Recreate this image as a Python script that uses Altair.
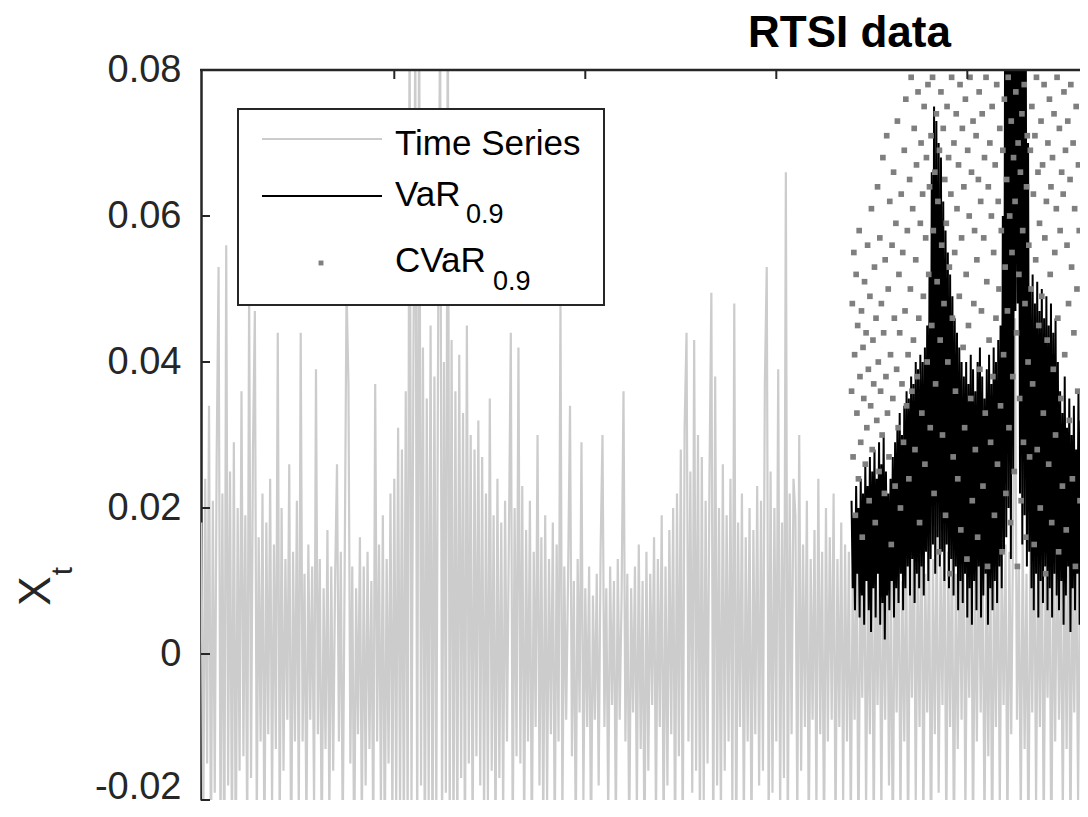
import altair as alt
import pandas as pd

# ---------------- data ----------------
title_text = "RTSI data"
legend_labels = ["Time Series", "VaR", "CVaR"]
legend_sub = "0.9"
y_ticks = [-0.02, 0, 0.02, 0.04, 0.06, 0.08]
x_ticks = [500, 1000, 1500, 2000]

ts_start, ts_step = -5, 5
ts_values = [
    0.018, -0.024, 0.024, -0.015, 0.034, -0.029, 0.021, -0.019, 0.027, 0.053,
    -0.026, 0.022, -0.033, 0.056, -0.018, 0.025, -0.027, 0.029, -0.03, 0.02, -0.016,
    0.036, -0.014, 0.019, -0.026, 0.05, -0.017, 0.028, 0.047, -0.023, 0.016,
    -0.012, 0.022, -0.028, 0.018, -0.011, 0.024, -0.021, 0.015, -0.013, 0.044,
    -0.025, 0.02, -0.016, 0.013, -0.009, 0.026, -0.03, 0.014, -0.012, 0.021,
    -0.022,
    0.044, -0.012, 0.011, -0.024, 0.015, -0.009, 0.012, -0.021, 0.039, -0.011,
    0.013, -0.027, 0.009, -0.013, 0.017, -0.022, 0.012, -0.016, 0.01, 0.026,
    -0.012, 0.014, -0.025, 0.011, 0.05, 0.037, -0.015, 0.012, -0.029, 0.009,
    -0.011, 0.016, -0.024, 0.012, -0.018, 0.014, -0.013, 0.01, -0.026, 0.037,
    -0.012, 0.015, -0.021, 0.019, -0.027, 0.013, -0.015, 0.022, -0.023,
    0.024, -0.021, 0.031, -0.022, 0.028, -0.026, 0.036, -0.025, 0.09, -0.021,
    0.04, 0.085, -0.028, 0.095, -0.018, 0.042, -0.03, 0.035, -0.02, 0.045,
    -0.03, 0.038, -0.022, 0.047, 0.088, -0.026, 0.04, -0.019, 0.092, -0.024,
    0.043, -0.027, 0.036, -0.027, 0.041, -0.017, 0.033, -0.029, 0.045, -0.015,
    0.03, -0.026, 0.028, -0.014, 0.032,
    -0.018, 0.027, -0.023, 0.022, -0.02, 0.035, -0.016, 0.019, -0.026, 0.024,
    -0.017, 0.018, -0.022, 0.021, -0.012, 0.016, 0.044, -0.027, 0.02, -0.014,
    0.042, -0.015, 0.023, -0.025, 0.017, -0.012, 0.021, -0.028, 0.014, -0.01,
    0.03, -0.018, 0.016, -0.024, 0.019, -0.02, 0.013, -0.011, 0.018, -0.026,
    0.015,
    -0.012, 0.048, -0.023, 0.012, -0.009, 0.011, 0.034, -0.014, 0.01, -0.025,
    0.013, -0.008, 0.029, -0.02, 0.009, -0.01, 0.012, -0.027, 0.008, -0.009,
    0.011, -0.018, 0.014, 0.03, -0.01, 0.009, -0.022, 0.012, -0.007, 0.01,
    -0.024, 0.013, -0.009, 0.008, 0.036, -0.012, 0.011, -0.026, 0.009, -0.008,
    0.012, -0.021, 0.015, -0.013, 0.01, -0.028, 0.014, -0.016, 0.011, -0.007,
    0.016, -0.023, 0.013, -0.01, 0.019, -0.025, 0.012, -0.018, 0.017, -0.011,
    0.02, -0.027,
    0.022, -0.014, 0.028, -0.027, 0.031, 0.044, -0.012, 0.025, -0.019, 0.043,
    -0.016, 0.03, -0.024, 0.027, -0.02, 0.021, -0.015, 0.024, 0.0495, -0.029,
    0.038, -0.018, 0.02, -0.023, 0.026, -0.016, 0.019, -0.012, 0.024, -0.021,
    0.048, -0.028, 0.018, -0.01, 0.022, -0.024, 0.016, -0.012, 0.02, -0.026,
    0.017, -0.011, 0.023, -0.018, 0.021, -0.016, 0.037, 0.053, -0.025, 0.025,
    -0.019, 0.02, -0.012, 0.039, -0.022, 0.018, -0.017, 0.066, -0.027, 0.022,
    -0.011, 0.024,
    0.019, -0.023, 0.03, -0.016, 0.015, -0.01, 0.021, -0.026, 0.013, -0.009,
    0.017, -0.021, 0.024, -0.011, 0.014, -0.027, 0.02, -0.012, 0.016, -0.009,
    0.022, -0.025, 0.013, -0.01, 0.018, -0.02, 0.015,
    -0.012, 0.014, -0.024, 0.011, -0.009, 0.016, -0.027, 0.012, -0.006, 0.018,
    -0.021, 0.01, -0.011, 0.02, -0.025, 0.013, -0.007, 0.015, -0.022, 0.012,
    -0.009, 0.017, -0.018, 0.011, -0.028, 0.014, -0.008, 0.019, -0.023, 0.01,
    -0.012, 0.015, -0.026, 0.013, -0.006, 0.018, -0.02, 0.012, -0.01, 0.022,
    -0.024, 0.011, -0.008, 0.016, -0.029, 0.013, -0.011, 0.017, -0.019, 0.012,
    -0.007, 0.019, -0.025, 0.014, -0.01, 0.016, -0.027, 0.011, -0.013, 0.015,
    -0.009, 0.018, -0.022, 0.012, -0.006, 0.02, -0.026, 0.013, -0.012, 0.016,
    -0.008, 0.014, -0.024, 0.011, -0.014, 0.017, -0.028, 0.012, -0.01, 0.019,
    -0.021, 0.013, -0.007, 0.015, -0.025, 0.014, -0.011, 0.018, 0.046, -0.009,
    0.012, -0.023, 0.016, -0.013, 0.011, -0.027, 0.015, -0.008, 0.019, -0.02,
    0.013, -0.01, 0.017, -0.025, 0.012, -0.006, 0.016, -0.029, 0.014, -0.012,
    0.018, -0.009, 0.011, -0.022, 0.015, -0.013, 0.02, -0.026, 0.012, -0.008,
    0.016, -0.02, 0.013, -0.011, 0.019, -0.027, 0.014, -0.01,
]

var_start, var_step = 1697, 3
var_values = [
    0.021, 0.009, 0.019, 0.006, 0.023, 0.011, 0.02, 0.005, 0.024, 0.008,
    0.022, 0.004, 0.026, 0.01, 0.023, 0.006, 0.027, 0.003, 0.025, 0.009,
    0.028, 0.005, 0.024, 0.011, 0.029, 0.004, 0.026, 0.007, 0.03, 0.002,
    0.025, 0.008, 0.022, 0.006, 0.024, 0.01, 0.027, 0.005, 0.029, 0.009,
    0.031, 0.007, 0.033, 0.011, 0.03, 0.006, 0.034, 0.009, 0.036, 0.012,
    0.035, 0.008, 0.038, 0.013, 0.037, 0.007, 0.04, 0.011, 0.039, 0.009,
    0.041, 0.012, 0.04, 0.008, 0.042, 0.014, 0.045, 0.01,
    0.052, 0.013, 0.066, 0.015, 0.075, 0.011, 0.073, 0.016, 0.07, 0.012,
    0.068, 0.014, 0.062, 0.01, 0.058, 0.015, 0.055, 0.009, 0.052, 0.013,
    0.049, 0.008, 0.046, 0.012, 0.044, 0.006, 0.042, 0.01, 0.04, 0.007,
    0.038, 0.011, 0.04, 0.005, 0.037, 0.009, 0.041, 0.004, 0.039, 0.01,
    0.036, 0.006, 0.04, 0.012, 0.042, 0.005, 0.038, 0.008, 0.035, 0.011,
    0.039, 0.004, 0.041, 0.009, 0.037, 0.006, 0.042, 0.01, 0.04, 0.007,
    0.043, 0.012, 0.045, 0.009, 0.06, 0.014,
    0.088, 0.016, 0.095, 0.02, 0.1, 0.013, 0.097, 0.025, 0.092, 0.047,
    0.098, 0.048, 0.094, 0.022, 0.09, 0.015, 0.096, 0.019, 0.087, 0.012,
    0.07, 0.014,
    0.05, 0.009, 0.052, 0.006, 0.048, 0.011, 0.051, 0.005, 0.047, 0.01,
    0.05, 0.007, 0.046, 0.012, 0.049, 0.006, 0.045, 0.009, 0.048, 0.005,
    0.044, 0.011, 0.046, 0.008, 0.04, 0.006,
    0.036, 0.01, 0.033, 0.004, 0.038, 0.008, 0.031, 0.012, 0.035, 0.003,
    0.03, 0.009, 0.034, 0.006, 0.028, 0.011, 0.036, 0.004, 0.032, 0.008,
    0.029, 0.012, 0.035, 0.005, 0.031, 0.009, 0.037, 0.007, 0.033, 0.01,
    0.03, 0.005, 0.034, 0.008,
]

cvar_start, cvar_step = 1697, 2
cvar_values = [
    0.036, 0.048, 0.027, 0.055, 0.041, 0.019, 0.052, 0.033, 0.045, 0.024,
    0.058, 0.038, 0.029, 0.047, 0.016, 0.042, 0.035, 0.051, 0.026, 0.044,
    0.031, 0.056, 0.039, 0.021, 0.049, 0.034, 0.061, 0.028, 0.043, 0.037,
    0.053, 0.018, 0.046, 0.032, 0.064, 0.04, 0.025, 0.057, 0.036, 0.048,
    0.03, 0.068, 0.044, 0.022, 0.054, 0.038, 0.071, 0.033, 0.05, 0.027,
    0.062, 0.041, 0.015, 0.056, 0.035, 0.066, 0.046, 0.023, 0.059, 0.039,
    0.073, 0.031, 0.052, 0.044, 0.02, 0.063, 0.037, 0.055, 0.029, 0.069,
    0.047, 0.076, 0.034, 0.058, 0.041, 0.024, 0.065, 0.05, 0.079, 0.036,
    0.061, 0.043, 0.072, 0.028, 0.054, 0.067, 0.038, 0.077, 0.046, 0.018,
    0.059, 0.07, 0.033, 0.063, 0.049, 0.075, 0.026, 0.057, 0.068, 0.04,
    0.078, 0.052, 0.064, 0.031,
    0.071, 0.045, 0.079, 0.058, 0.022, 0.066, 0.037, 0.074, 0.051, 0.062,
    0.014, 0.069, 0.043, 0.077, 0.056, 0.03, 0.072, 0.048, 0.065, 0.019,
    0.059, 0.075, 0.04, 0.068, 0.053, 0.011, 0.063, 0.079, 0.046, 0.027,
    0.07, 0.055, 0.036, 0.074, 0.061, 0.024, 0.067, 0.049, 0.078, 0.017,
    0.057, 0.072, 0.042, 0.064, 0.031, 0.076, 0.052, 0.013, 0.069, 0.045,
    0.06, 0.079, 0.035, 0.066, 0.021, 0.073, 0.048, 0.058, 0.028, 0.071,
    0.054, 0.016, 0.065, 0.077, 0.039, 0.062, 0.047, 0.074, 0.023, 0.057,
    0.068, 0.033, 0.079, 0.051, 0.012, 0.064, 0.043, 0.07, 0.029, 0.06,
    0.075, 0.038, 0.055, 0.019, 0.067, 0.046, 0.078, 0.026, 0.062, 0.05,
    0.072, 0.034, 0.058, 0.014, 0.069, 0.041, 0.076, 0.053, 0.022,
    0.065, 0.047, 0.079, 0.031, 0.06, 0.018, 0.073, 0.055, 0.038, 0.068,
    0.025, 0.062, 0.077, 0.044, 0.012, 0.07, 0.052, 0.035, 0.066, 0.021,
    0.074, 0.058, 0.029, 0.078, 0.048, 0.016, 0.064, 0.071, 0.04, 0.056,
    0.027, 0.069, 0.05,
    0.075, 0.037, 0.063, 0.015, 0.071, 0.054, 0.079, 0.028, 0.066, 0.045,
    0.059, 0.02, 0.073, 0.049, 0.067, 0.033, 0.078, 0.057, 0.011, 0.062,
    0.043, 0.07, 0.026, 0.076, 0.052, 0.064, 0.018, 0.068, 0.039, 0.074,
    0.055, 0.03, 0.061, 0.079, 0.046, 0.014, 0.072, 0.058, 0.035, 0.066,
    0.023, 0.063, 0.077, 0.041, 0.069, 0.017, 0.056, 0.073, 0.048, 0.032,
    0.065, 0.078, 0.053, 0.024, 0.07, 0.044, 0.061, 0.012, 0.075, 0.05,
    0.036, 0.067, 0.058, 0.021,
]

# ---------------- tables ----------------
ts_df = pd.DataFrame({"t": [ts_start + ts_step * i for i in range(len(ts_values))],
                      "v": ts_values})
var_df = pd.DataFrame({"t": [var_start + var_step * i for i in range(len(var_values))],
                       "v": var_values})
cvar_df = pd.DataFrame({"t": [cvar_start + cvar_step * i for i in range(len(cvar_values))],
                        "v": cvar_values})

FONT = "Liberation Sans"
AX = "#262626"
W, H = 879, 730
xs = alt.Scale(domain=[-6, 2295], nice=False, zero=False)
ys = alt.Scale(domain=[-0.02, 0.08], nice=False, zero=False)

label_expr = ("datum.value == 0 ? '0' : (datum.value < 0 ? '-' + format(-datum.value, '.2f')"
              " : format(datum.value, '.2f'))")
yaxis = alt.Axis(values=y_ticks, labelExpr=label_expr, domain=True, domainColor=AX,
                 domainWidth=2.5, ticks=False, grid=False, labelFont=FONT,
                 labelFontSize=38, labelColor=AX, labelPadding=20, labelFlush=False,
                 labelOverlap=False, labelBaseline="middle", title=None,
                 labelOffset={"condition": {"test": "datum.value < -0.01", "value": -13},
                              "value": 0})

X = alt.X("t:Q", scale=xs, axis=None)
Y = alt.Y("v:Q", scale=ys, axis=yaxis)

gray = alt.Chart(ts_df).mark_line(color="#cccccc", strokeWidth=2.2, clip=True).encode(x=X, y=Y)
var_line = alt.Chart(var_df).mark_line(color="black", strokeWidth=2, clip=True).encode(x=X, y=Y)
cvar_pts = alt.Chart(cvar_df).mark_square(size=32, color="#7f7f7f", opacity=1, clip=True).encode(x=X, y=Y)

ytick = alt.Chart(pd.DataFrame({"v": y_ticks})).mark_rule(color=AX, strokeWidth=2).encode(
    y=Y, x=alt.value(0), x2=alt.value(9))
xtick = alt.Chart(pd.DataFrame({"t": x_ticks})).mark_rule(color=AX, strokeWidth=2).encode(
    x=X, y=alt.value(0), y2=alt.value(9))

one = pd.DataFrame({"k": [0]})
top_border = alt.Chart(one).mark_rule(color=AX, strokeWidth=2.5).encode(
    x=alt.value(-1), x2=alt.value(W), y=alt.value(0))
legend_box = alt.Chart(one).mark_rect(fill="white", stroke=AX, strokeWidth=2).encode(
    x=alt.value(37), x2=alt.value(403), y=alt.value(39), y2=alt.value(235))
leg_ts = alt.Chart(one).mark_rule(color="#cccccc", strokeWidth=2).encode(
    x=alt.value(61), x2=alt.value(181), y=alt.value(69))
leg_var = alt.Chart(one).mark_rule(color="black", strokeWidth=2).encode(
    x=alt.value(61), x2=alt.value(181), y=alt.value(126))
leg_cvar = alt.Chart(one).mark_square(size=24, color="#7f7f7f", opacity=1).encode(
    x=alt.value(120), y=alt.value(193))


def txt(s, x, y, size, weight="normal", angle=0, align="left", color="black"):
    return alt.Chart(pd.DataFrame({"s": [s]})).mark_text(
        align=align, baseline="alphabetic", font=FONT, fontSize=size,
        fontWeight=weight, angle=angle, color=color).encode(
        text="s:N", x=alt.value(x), y=alt.value(y))


texts = [
    txt(legend_labels[0], 194, 85, 35),
    txt(legend_labels[1], 194, 136, 35),
    txt(legend_sub, 265, 153, 27),
    txt(legend_labels[2], 194, 202, 35),
    txt(legend_sub, 292, 220, 27),
    txt(title_text, 547, -23, 44, weight="bold"),
    txt("X", -151, 521, 44, angle=270, align="center", color=AX),
    txt("t", -129, 501, 30, angle=270, align="center", color=AX),
]

chart = alt.layer(
    gray, var_line, cvar_pts, ytick, xtick, top_border,
    legend_box, leg_ts, leg_var, leg_cvar, *texts
).properties(
    width=W, height=H,
    autosize=alt.AutoSizeParams(type="none"),
    padding={"left": 193, "top": 62, "right": 0, "bottom": 8},
    background="white",
).configure_view(strokeWidth=0)

chart.save("out.html", embed_options={"renderer": "svg", "actions": False})
